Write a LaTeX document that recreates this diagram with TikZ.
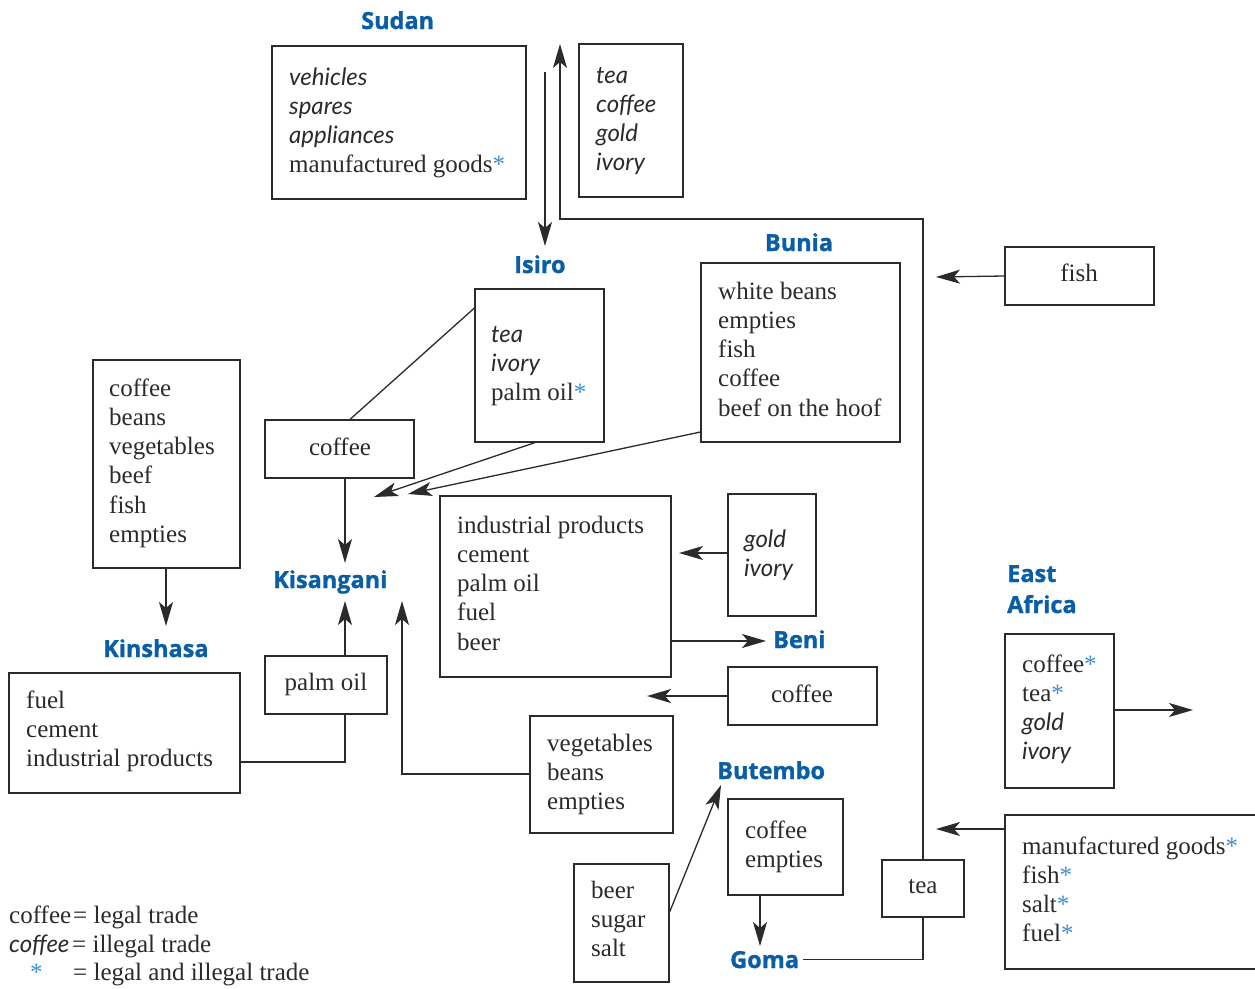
\documentclass[tikz,border=0pt]{standalone}
\usepackage{fontspec}
\setmainfont{Liberation Serif}
\newfontfamily\illfont{Lato}
\newfontfamily\labfont{Open Sans}[BoldFeatures={FakeBold=1.2}]
\usetikzlibrary{arrows.meta,fit}
\definecolor{ink}{HTML}{2B2B2B}
\definecolor{place}{HTML}{0A5EA8}
\definecolor{star}{HTML}{3B8FD4}
\newcommand\il[1]{{\illfont\itshape\fontsize{24}{29.3}\selectfont #1}}
\newcommand\st{\textcolor{star}{*}}
\newcommand\Ln[1]{\hbox{#1}}
\tikzset{
  box/.style={draw=ink, line width=1.2pt, inner sep=0pt},
  lst/.style={anchor=base west, inner sep=0pt, text=ink, font=\fontsize{25}{29.3}\selectfont},
  one/.style={anchor=base, inner sep=0pt, text=ink, font=\fontsize{25}{29.3}\selectfont},
  plc/.style={anchor=base west, inner sep=0pt, text=place, font=\labfont\bfseries\fontsize{23.5}{31}\selectfont},
  conn/.style={draw=ink, line width=1.3pt},
  arr/.style={conn, -{Stealth[length=24pt,width=14pt,inset=6pt]}},
}
\begin{document}
\begin{tikzpicture}[x=1pt,y=-1pt]
\useasboundingbox[fill=white] (0,0) rectangle (1255,988);
% ---------- boxes ----------
\node[box, fit={(272,46) (526,199)}] (sudanA) {};
\node[box, fit={(579,44) (683,197)}] (sudanB) {};
\node[box, fit={(475,289) (604,442)}] (isiro) {};
\node[box, fit={(265,420) (414,478)}] (coffeeA) {};
\node[box, fit={(701,263) (900,442)}] (bunia) {};
\node[box, fit={(1005,247) (1154,305)}] (fish) {};
\node[box, fit={(93,360) (240,568)}] (west) {};
\node[box, fit={(9,673) (240,793)}] (kin) {};
\node[box, fit={(265,656) (387,714)}] (palm) {};
\node[box, fit={(440,496) (671,677)}] (indus) {};
\node[box, fit={(728,494) (816,616)}] (gold) {};
\node[box, fit={(728,667) (877,725)}] (coffeeB) {};
\node[box, fit={(530,716) (673,833)}] (veg) {};
\node[box, fit={(728,799) (843,895)}] (but) {};
\node[box, fit={(574,864) (669,982)}] (beer) {};
\node[box, fit={(882,860) (964,917)}] (tea) {};
\node[box, fit={(1005,634) (1114,788)}] (ea) {};
\draw[conn, line width=1.2pt] (1260,815) -| (1005,969) -- (1260,969);
\coordinate (manL) at (1005,829);
% ---------- box texts ----------
\node[lst] (tSudanA) at (289,85) {\vtop{\Ln{\il{vehicles}}\Ln{\il{spares}}\Ln{\il{appliances}}\Ln{manufactured goods\st}}};
\node[lst] (tSudanB) at (596,83) {\vtop{\Ln{\il{tea}}\Ln{\il{coffee}}\Ln{\il{gold}}\Ln{\il{ivory}}}};
\node[lst] (tIsiro) at (491,342) {\vtop{\Ln{\il{tea}}\Ln{\il{ivory}}\Ln{palm oil\st}}};
\node[one] (tCoffeeA) at (340,455) {coffee};
\node[lst] (tBunia) at (718,299) {\vtop{\Ln{white beans}\Ln{empties}\Ln{fish}\Ln{coffee}\Ln{beef on the hoof}}};
\node[one] (tFish) at (1079,281) {fish};
\node[lst] (tWest) at (109,396) {\vtop{\Ln{coffee}\Ln{beans}\Ln{vegetables}\Ln{beef}\Ln{fish}\Ln{empties}}};
\node[lst] (tKin) at (26,708) {\vtop{\Ln{fuel}\Ln{cement}\Ln{industrial products}}};
\node[one] (tPalm) at (326,690) {palm oil};
\node[lst] (tIndus) at (457,533) {\vtop{\Ln{industrial products}\Ln{cement}\Ln{palm oil}\Ln{fuel}\Ln{beer}}};
\node[lst] (tGold) at (744,547) {\vtop{\Ln{\il{gold}}\Ln{\il{ivory}}}};
\node[one] (tCoffeeB) at (802,702) {coffee};
\node[lst] (tVeg) at (547,751) {\vtop{\Ln{vegetables}\Ln{beans}\Ln{empties}}};
\node[lst] (tBut) at (745,838) {\vtop{\Ln{coffee}\Ln{empties}}};
\node[lst] (tBeer) at (591,898) {\vtop{\Ln{beer}\Ln{sugar}\Ln{salt}}};
\node[one] (tTea) at (923,893) {tea};
\node[lst] (tEa) at (1022,672) {\vtop{\Ln{coffee\st}\Ln{tea\st}\Ln{\il{gold}}\Ln{\il{ivory}}}};
\node[lst] (tMan) at (1022,854) {\vtop{\Ln{manufactured goods\st}\Ln{fish\st}\Ln{salt\st}\Ln{fuel\st}}};
% ---------- place names ----------
\node[plc] (Sudan) at (361,29) {Sudan};
\node[plc] (Isiro) at (514,273) {Isiro};
\node[plc, anchor=base] (Bunia) at (799,251) {Bunia};
\node[plc] (Kisangani) at (273,588) {Kisangani};
\node[plc] (Kinshasa) at (103,657) {Kinshasa};
\node[plc] (Beni) at (773,648) {Beni};
\node[plc] (Butembo) at (717,779) {Butembo};
\node[plc] (Goma) at (730,968) {Goma};
\node[plc] (EastAfrica) at (1007,582) {\vtop{\Ln{East}\Ln{Africa}}};
% ---------- legend ----------
\node[lst] (leg1) at (9,923) {coffee};
\node[lst] (leg1b) at (73,923) {= legal trade};
\node[lst] (leg2) at (9,952) {\il{coffee}};
\node[lst] (leg2b) at (72,952) {= illegal trade};
\node[lst] (leg3) at (30,980) {\st};
\node[lst] (leg3b) at (73,980) {= legal and illegal trade};
% ---------- connectors ----------
\coordinate (sudIn) at (545,72);
\coordinate (isTip) at (545,246);
\coordinate (sudOut) at (560,44);
\coordinate (bend1) at (560,219);
\draw[arr] (sudIn) -- (isTip);
\draw[arr] (tea.north) |- (bend1) -- (sudOut);
\draw[conn] (tea.south) |- ([xshift=4pt]Goma.east);
\draw[conn] (isiro.west |- 0,308) -- (coffeeA.north -| 350,0);
\coordinate (kisA) at (374,497);
\coordinate (kisB) at (408,494);
\draw[arr] (isiro.south -| 535,0) -- (kisA);
\draw[arr] (bunia.west |- 0,432) -- (kisB);
\draw[arr] (coffeeA.south -| 345,0) -- (345,563) coordinate (kisC);
\coordinate (fishTip) at (936,277);
\draw[arr] (fish.west) -- (fishTip);
\draw[arr] (west.south -| 166,0) -- (166,626) coordinate (kinTip);
\draw[conn] (kin.east |- 0,762) -| (palm.south -| 345,0);
\draw[arr] (palm.north -| 345,0) -- (345,601) coordinate (kisD);
\draw[arr] (veg.west |- 0,774) -| (402,601) coordinate (kisE);
\coordinate (beniTip) at (766,641);
\draw[arr] (indus.east |- 0,641) -- (beniTip);
\draw[arr] (gold.west |- 0,553) -- (679,553) coordinate (indTip);
\draw[arr] (coffeeB.west |- 0,696) -- (647,696) coordinate (cbTip);
\draw[arr] (beer.east |- 0,912) -- (721,785) coordinate (butTip);
\draw[arr] (but.south -| 760,0) -- (760,946) coordinate (gomaTip);
\draw[arr] (ea.east |- 0,710) -- (1193,710) coordinate (eaTip);
\draw[arr] (manL) -- (936,829) coordinate (manTip);
\end{tikzpicture}
\end{document}
